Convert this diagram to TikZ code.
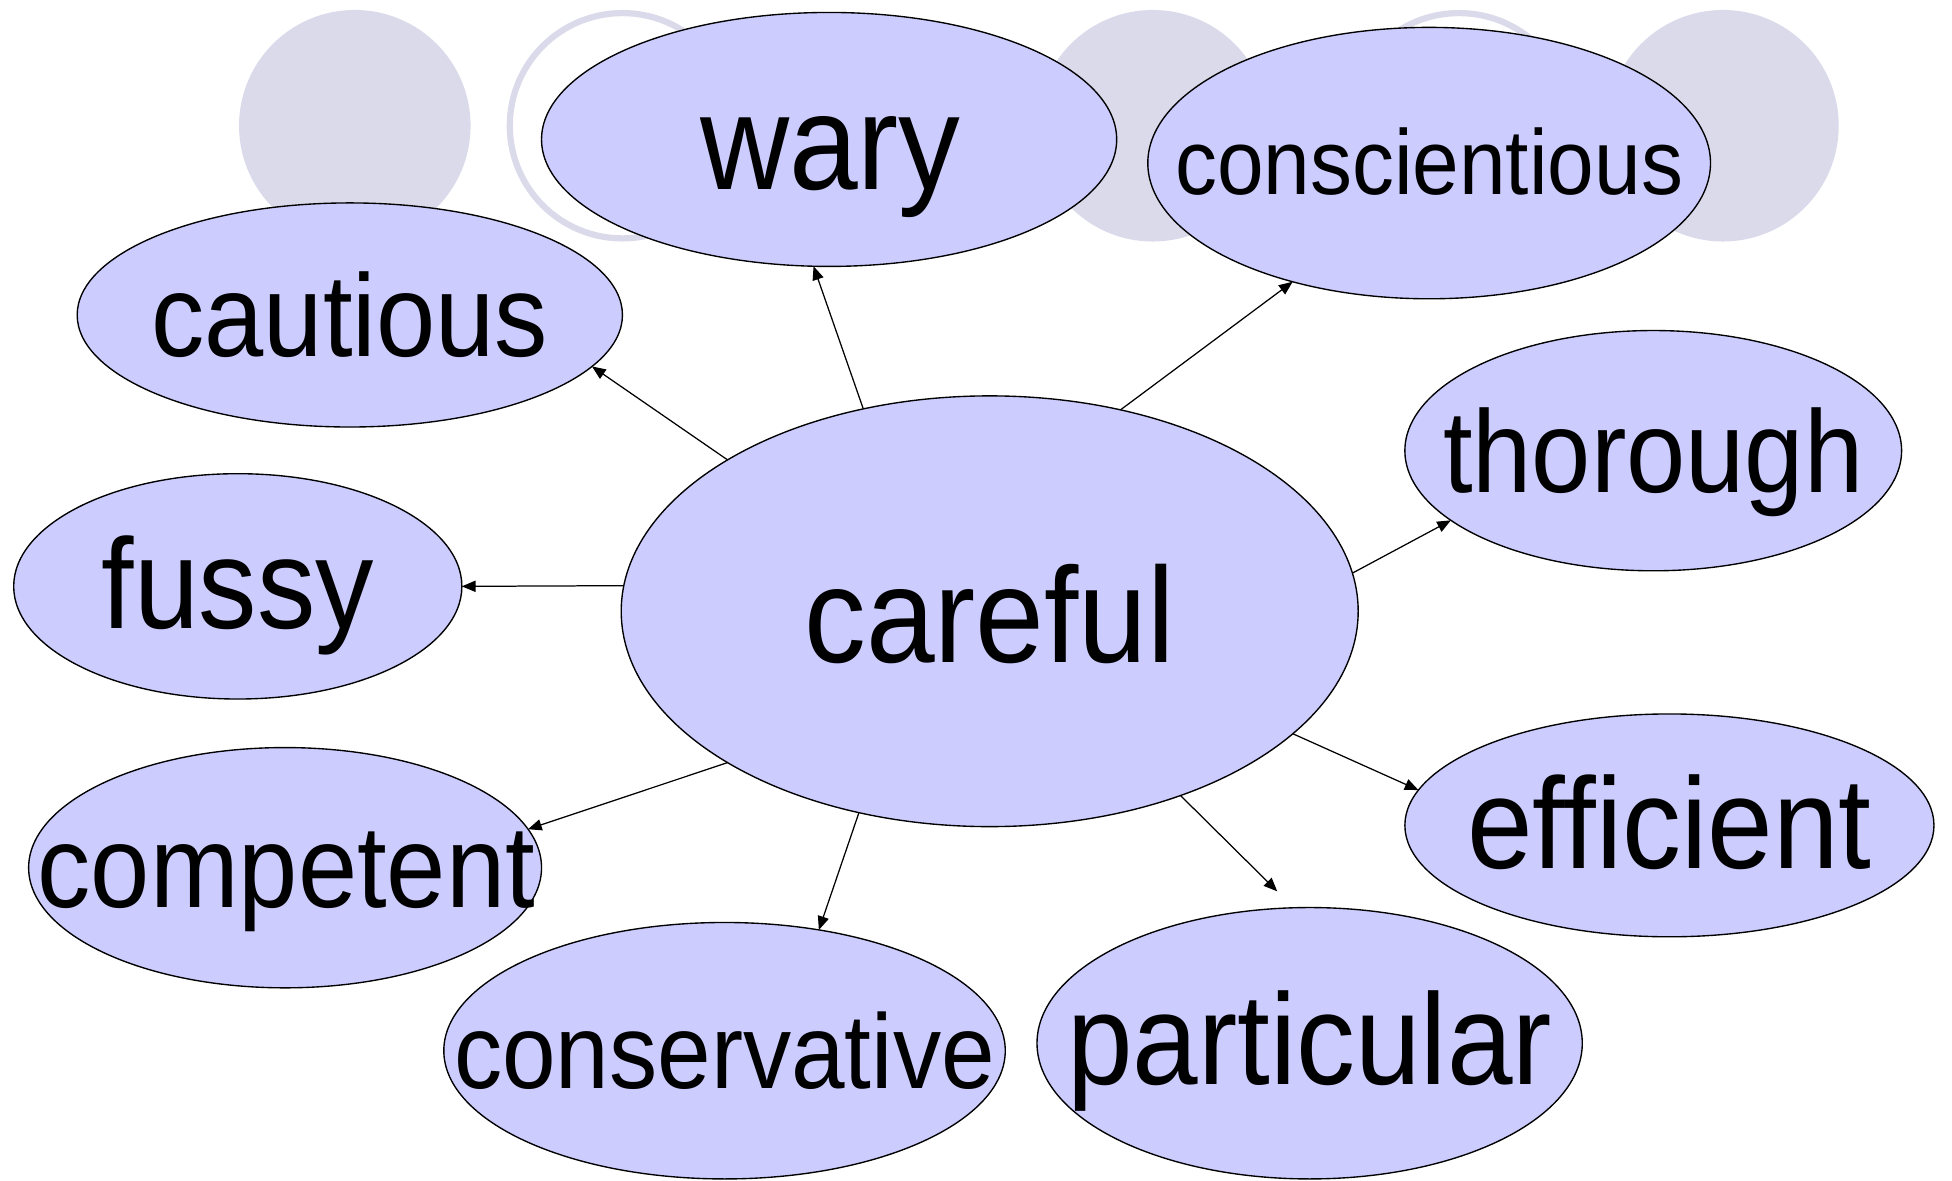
\documentclass[tikz,border=0pt]{standalone}
\usepackage{fontspec}
\setmainfont{Liberation Sans}[FakeStretch=0.91]
\usetikzlibrary{shapes.geometric,arrows.meta}
\definecolor{bubble}{RGB}{204,204,255}
\definecolor{deco}{RGB}{218,218,235}
\newcommand\wsize[1]{\fontsize{#1}{#1}\selectfont}
\tikzset{
  bub/.style={ellipse, draw=black, line width=1.1pt, fill=bubble, inner sep=0pt, outer sep=0pt},
  word/.style={anchor=base, inner sep=0pt, outer sep=0pt, text=black},
  link/.style={line width=1pt, draw=black, -{Triangle[length=11pt,width=9pt]}},
  decodot/.style={fill=deco},
  decoring/.style={draw=deco, line width=5pt}
}
\begin{document}
\begin{tikzpicture}[x=1pt,y=-1pt]
\useasboundingbox (0,0) rectangle (1568,948);
% background decoration
\fill[decodot] (285,101) circle (93);
\draw[decoring] (500,101) circle (90.5);
\fill[decodot] (926,101) circle (93);
\draw[decoring] (1172,101) circle (90.5);
\fill[decodot] (1384,101) circle (93);
% bubbles
\node[bub, minimum width=592pt, minimum height=346pt] (careful) at (795,491) {};
\node[bub, minimum width=462pt, minimum height=204pt] (wary) at (666,112) {};
\node[bub, minimum width=452pt, minimum height=218pt] (consc) at (1148,131) {};
\node[bub, minimum width=438pt, minimum height=180pt] (cautious) at (281,253) {};
\node[bub, minimum width=399pt, minimum height=193pt] (thorough) at (1328,362) {};
\node[bub, minimum width=360pt, minimum height=181pt] (fussy) at (191,471) {};
\node[bub, minimum width=412pt, minimum height=193pt] (competent) at (229,697) {};
\node[bub, minimum width=425pt, minimum height=179pt] (efficient) at (1341,663) {};
\node[bub, minimum width=451pt, minimum height=206pt] (conservative) at (582,844) {};
\node[bub, minimum width=438pt, minimum height=218pt] (particular) at (1052,838) {};
% words
\node[word, font=\wsize{109}] (tcareful) at (795,532) {careful};
\node[word, font=\wsize{109}] (twary) at (667,152) {wary};
\node[word, font=\wsize{74}] (tconsc) at (1148,156) {conscientious};
\node[word, font=\wsize{94}] (tcautious) at (281,286) {cautious};
\node[word, font=\wsize{94}] (tthorough) at (1328,396) {thorough};
\node[word, font=\wsize{103}] (tfussy) at (191,505) {fussy};
\node[word, font=\wsize{94}] (tcompetent) at (230,729) {competent};
\node[word, font=\wsize{104}] (tefficient) at (1341,698) {efficient};
\node[word, font=\wsize{85}] (tconservative) at (582,874) {conservative};
\node[word, font=\wsize{104}] (tparticular) at (1052,871) {particular};
% connectors
\coordinate (pend) at (1026,716);
\draw[link] (careful.150.6) -- (cautious.348.3);
\draw[link] (careful.122.3) -- (wary.263.3);
\draw[link] (careful.57.3) -- (consc.221.9);
\draw[link] (careful.6.2) -- (thorough.199.8);
\draw[link] (careful.176) -- (fussy.0);
\draw[link] (careful.210.6) -- (competent.9.7);
\draw[link] (careful.237.2) -- (conservative.52.5);
\draw[link] (careful.316.3) -- (pend);
\draw[link] (careful.338.5) -- (efficient.172.6);
\end{tikzpicture}
\end{document}
